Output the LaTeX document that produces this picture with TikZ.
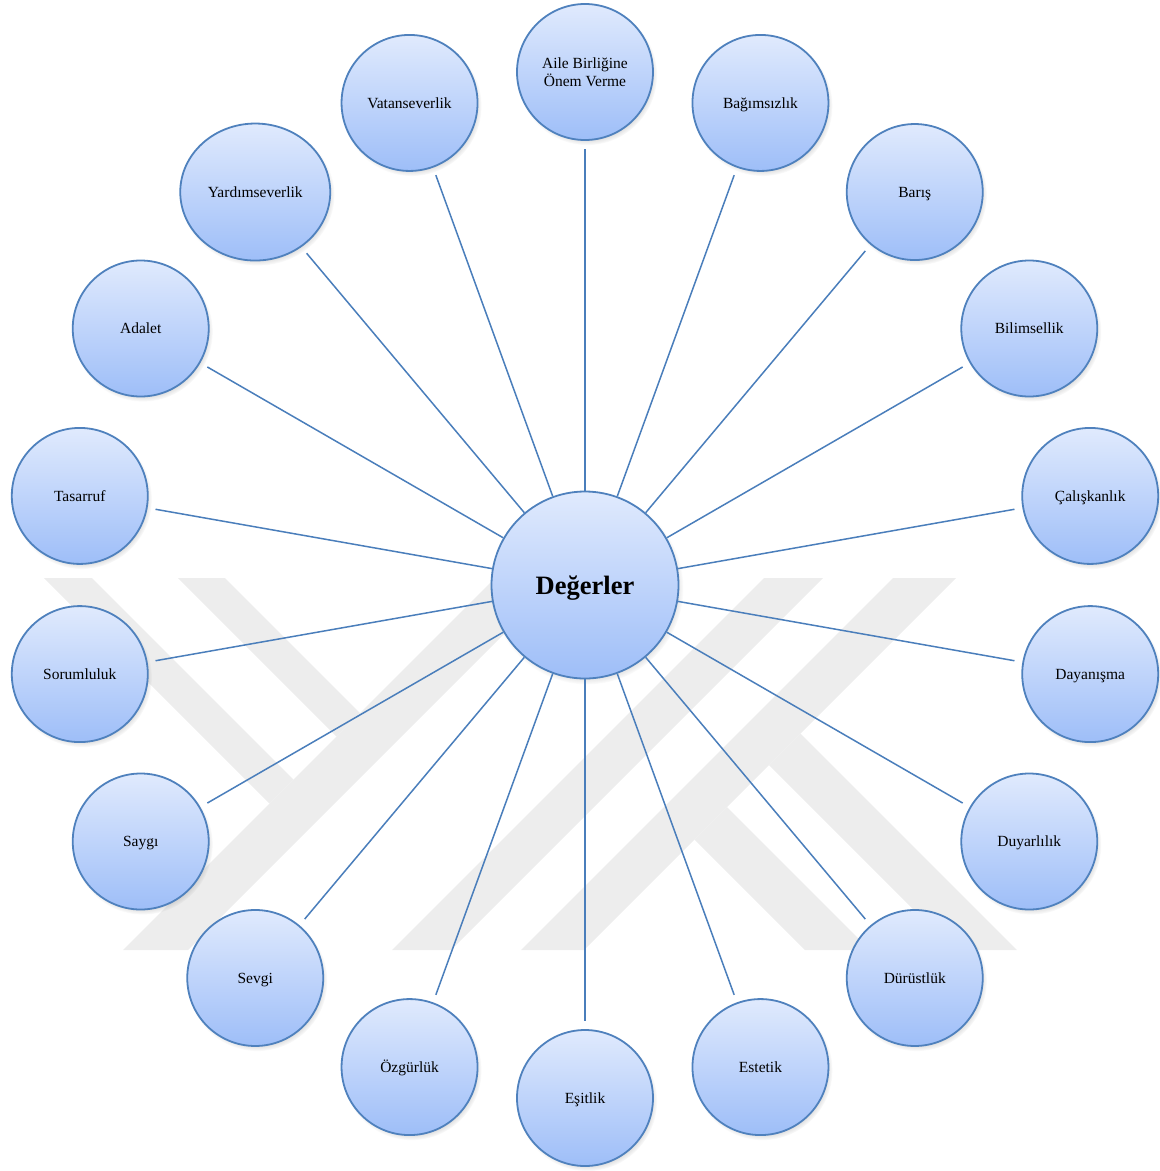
\documentclass[tikz,border=0pt]{standalone}
\usepackage{fontspec}
\setmainfont{Liberation Serif}
\usetikzlibrary{calc,shapes.geometric,shadows}

\definecolor{spokeblue}{HTML}{4A7EBB}
\definecolor{ringblue}{HTML}{4F81BD}
\definecolor{topfill}{HTML}{E0EAFD}
\definecolor{midfill}{HTML}{C4D8FB}
\definecolor{botfill}{HTML}{9EBEF8}
\definecolor{markgray}{HTML}{EDEDED}

% text box lowered a little inside its bubble, keeping its nominal size
\newcommand{\bubbletext}[2]{\raisebox{-#1}[\height][\depth]{%
  \begin{tabular}{@{}c@{}}#2\end{tabular}}}

\tikzset{
  bubble/.style={circle, draw=ringblue, line width=1.8pt,
    top color=topfill, middle color=midfill, bottom color=botfill,
    inner sep=0pt, align=center,
    circular drop shadow={shadow xshift=2pt, shadow yshift=-3pt,
      shadow scale=1.03, opacity=0.45}},
  val/.style={bubble, minimum size=136pt,
    font=\fontsize{15.5pt}{17pt}\selectfont},
  valwide/.style={val, ellipse, minimum width=150pt, minimum height=137pt},
  hub/.style={bubble, minimum size=187pt,
    font=\bfseries\fontsize{26.5pt}{30pt}\selectfont},
  spoke/.style={spokeblue, line width=1.5pt, shorten >=8pt},
  logoband/.style={fill=markgray, draw=none}
}

\begin{document}
\begin{tikzpicture}[x=1pt,y=-1pt]
\useasboundingbox (0,0) rectangle (1160,1171);

% faint emblem in the background
\fill[logoband] (495,578) -- (560,578) -- (188,950) -- (123,950) -- cycle;
\fill[logoband] (764,578) -- (823,578) -- (451,950) -- (392,950) -- cycle;
\fill[logoband] (893,578) -- (956,578) -- (584,950) -- (521,950) -- cycle;
\fill[logoband] (44,578) -- (92,578) -- (293.5,779.5) -- (269.5,803.5) -- cycle;
\fill[logoband] (178,578) -- (225,578) -- (360,713) -- (336.5,736.5) -- cycle;
\fill[logoband] (800.5,733.5) -- (1017,950) -- (954,950) -- (769,765) -- cycle;
\fill[logoband] (727,807) -- (870,950) -- (805,950) -- (694.5,839.5) -- cycle;

% central value
\node[hub] (c) at (585,585) {\bubbletext{3pt}{Değerler}};

% values around the centre, every 20 degrees
\foreach \a/\t/\s [count=\i] in {
   90/{Aile Birliğine\\Önem Verme}/val,
   70/Bağımsızlık/val,
   50/Barış/val,
   30/Bilimsellik/val,
   10/Çalışkanlık/val,
  -10/Dayanışma/val,
  -30/Duyarlılık/val,
  -50/Dürüstlük/val,
  -70/Estetik/val,
  -90/Eşitlik/val,
 -110/Özgürlük/val,
 -130/Sevgi/val,
 -150/Saygı/val,
 -170/Sorumluluk/val,
  170/Tasarruf/val,
  150/Adalet/val,
  130/Yardımseverlik/valwide,
  110/Vatanseverlik/val}
  \node[\s] (o\i) at ($(c.center)+(\a:513pt)$) {\bubbletext{2pt}{\t}};

% spokes from the centre to each value
\foreach \i in {1,...,18}
  \draw[spoke] (c) -- (o\i);
\end{tikzpicture}
\end{document}
